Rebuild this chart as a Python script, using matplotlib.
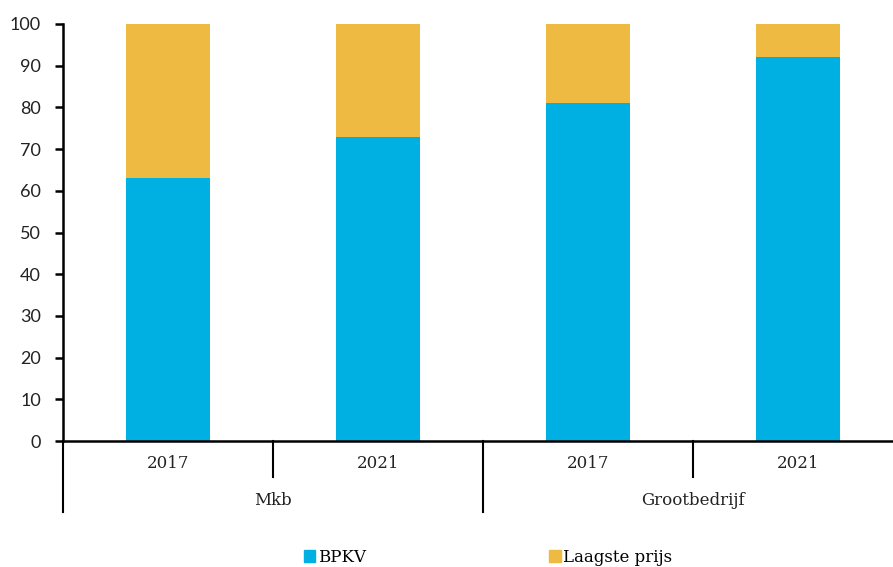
import matplotlib
matplotlib.use('Agg')
import matplotlib.pyplot as plt
import matplotlib.transforms as mtransforms
from matplotlib.patches import Patch

# data
years = ['2017', '2021', '2017', '2021']
groups = ['Mkb', 'Grootbedrijf']
bpkv = [63, 73, 81, 92]
laagste_prijs = [37, 27, 19, 8]

blue = '#00B0E3'
yellow = '#EEBA42'

fig = plt.figure(figsize=(8.93, 5.67), dpi=100)
ax = fig.add_axes([63 / 893, 126 / 567, 840 / 893, 417 / 567])

x = list(range(len(years)))
ax.bar(x, bpkv, width=0.4, color=blue, label='BPKV')
ax.bar(x, laagste_prijs, width=0.4, bottom=bpkv, color=yellow, label='Laagste prijs')

ax.set_xlim(-0.5, 3.5)
ax.set_ylim(0, 100)
ax.set_yticks(range(0, 101, 10))
for lab in ax.get_yticklabels():
    lab.set_fontfamily('Lato')
    lab.set_fontsize(13)
    lab.set_color('#222222')
ax.tick_params(axis='y', direction='out', length=6, width=1.8, pad=10)
ax.set_xticks([])

for side in ['top', 'right']:
    ax.spines[side].set_visible(False)
ax.spines['left'].set_linewidth(1.8)
ax.spines['bottom'].set_linewidth(1.8)

# multi-level category axis
trans = mtransforms.blended_transform_factory(ax.transData, ax.transAxes)
for xi, yr in zip(x, years):
    ax.text(xi, -0.055, yr, transform=trans, ha='center', va='center',
            fontsize=12, fontfamily='DejaVu Serif', color='#222222')
for gi, g in enumerate(groups):
    ax.text(gi * 2 + 0.5, -0.1415, g, transform=trans, ha='center', va='center',
            fontsize=12, fontfamily='DejaVu Serif', color='#222222')

for xs, y_end in [(-0.5, -0.17), (0.5, -0.086), (1.5, -0.17), (2.5, -0.086)]:
    ax.plot([xs, xs], [0, y_end], transform=trans, color='black', lw=1.5, clip_on=False)

handles = [Patch(color=blue, label='BPKV'), Patch(color=yellow, label='Laagste prijs')]
fig.legend(handles=handles, loc='center', bbox_to_anchor=(488 / 893, 1 - 557 / 567), ncol=2,
           frameon=False, handlelength=0.7, handleheight=0.7, handletextpad=0.15,
           columnspacing=11, prop={'family': 'DejaVu Serif', 'size': 12})

fig.savefig('out.png', dpi=100)
